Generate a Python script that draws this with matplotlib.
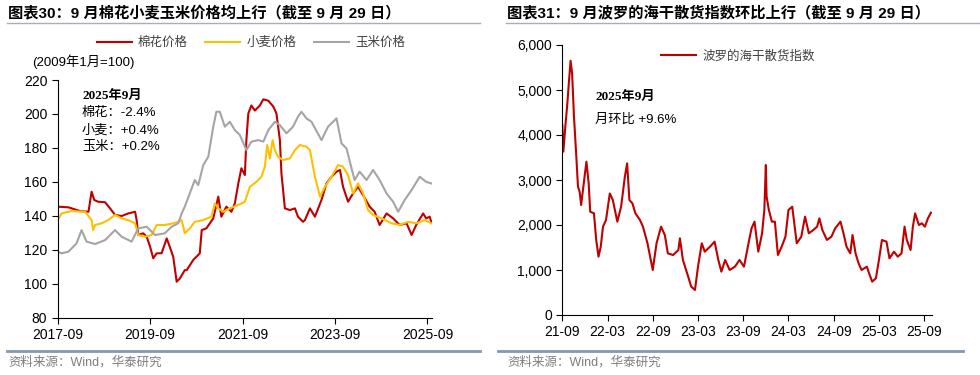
import matplotlib
matplotlib.use('Agg')
import matplotlib.pyplot as plt
from matplotlib.lines import Line2D
from matplotlib.ticker import FuncFormatter

CJK = 'Noto Sans CJK SC'
plt.rcParams['font.family'] = ['Liberation Sans', CJK, 'DejaVu Sans']

# ---- 图表30 数据：月份偏移（自2017-09起），指数（2009年1月=100）
cotton_m = [0, 2.8, 5.8, 8, 8.8, 9.5, 10.5, 12.3, 13.6, 14.9, 16.6, 18.3, 20.1, 20.5, 20.9,
            22.2, 23.1, 24, 24.8, 25.7, 27, 28.3, 29.1, 30, 30.9, 31.7, 33, 33.5, 35.2, 36.9,
            37.4, 38.6, 40.4, 41.7, 42.5, 43.8, 45.1, 46, 46.9, 47.7, 48.6, 49, 49.5, 50.3,
            51.2, 52.5, 53.4, 54.7, 56, 56.8, 57.7, 58.1, 59, 60.3, 61.6, 62.4, 63.7, 64.2,
            65.5, 66.8, 68.5, 69.8, 71.1, 72.4, 73.3, 74.1, 75.4, 76.7, 78, 79.3, 81, 82.3,
            83.6, 85.4, 87.1, 88.8, 90.6, 91.9, 93.1, 94.9, 95.7, 96.6, 97]
cotton_v = [145.4, 145, 142.8, 142.4, 154.2, 149.3, 148.3, 148, 144.4, 140.5, 139.9, 141.4,
            142.4, 137.5, 128.7, 129.7, 127.7, 121.8, 115, 117.9, 118, 126.7, 121.8, 115.9,
            101.2, 103, 108, 108, 114, 117.9, 131.6, 132.6, 138.5, 151.3, 139.5, 145.4, 142.4,
            147.3, 159.1, 168, 164, 184.6, 200.3, 205, 202, 205, 208.6, 207.8, 204.3, 200.3,
            184.6, 165, 144.4, 143.4, 144.4, 139.5, 136.5, 137.5, 144.4, 139.5, 149.3, 159.1,
            163, 166, 167, 157.1, 148.3, 153.2, 157.1, 152.2, 145.4, 142.4, 134.6, 141.4,
            138.5, 134.6, 135.6, 128.7, 134.6, 141.4, 138.5, 139.5, 136.5]

wheat_m = [0, 1, 3.6, 7.1, 8.8, 9.2, 9.7, 11.4, 13.1, 14.9, 16.6, 18.3, 20.1, 20.9, 22.7,
           24.4, 25.7, 27.8, 30, 31.3, 32.2, 33, 34.3, 35.6, 37.8, 39.9, 40.8, 41.7, 43, 44.7,
           46.9, 48.6, 49.9, 51.6, 52.9, 53.8, 54.4, 55.1, 55.8, 56.4, 57.2, 58.5, 60.3, 61.6,
           62.9, 64.6, 65.5, 66.8, 68.1, 69.4, 71.1, 72.8, 74.1, 75.4, 76.7, 78, 79.3, 80.6,
           81.9, 84.1, 86.7, 88.8, 91, 93.1, 95.3, 97]
wheat_v = [137.5, 141.4, 142.8, 142.4, 137.5, 131.6, 134.6, 135.6, 137.5, 140.5, 138.5, 137.5,
           135.6, 128.7, 127.7, 128.7, 134.6, 134.6, 135.6, 136.5, 137.5, 129.7, 132.6, 136.5,
           137.5, 139.5, 147.3, 144.4, 142.4, 144.4, 146.4, 148.3, 157.1, 160, 163, 168.9,
           181.7, 173.8, 184.6, 178.7, 174.8, 172.9, 173.8, 178.7, 181.7, 180.7, 178.7, 163,
           151.3, 157.1, 163, 169.9, 168.9, 164, 153.2, 159.1, 153.2, 143.4, 140.5, 138.5,
           135.6, 134.6, 136.5, 135.6, 137.5, 135.6]

corn_m = [0, 1, 2.8, 4.9, 6.2, 7.5, 9.7, 12.3, 14.9, 16.6, 19.2, 20.9, 23.1, 25.3, 27.8, 29.6,
          31.3, 32.2, 33, 34.3, 35.6, 36.5, 37.8, 39.1, 40.4, 41.2, 42.1, 43.4, 44.7, 46, 47.3,
          49, 50.3, 52.1, 53.4, 54.7, 56.4, 57.7, 59.4, 61.1, 62.4, 63.3, 64.6, 65.9, 68.5,
          70.2, 72.4, 73.7, 75, 76.3, 77.1, 78.4, 80.2, 81.9, 83.6, 85.4, 87.1, 88.4, 90.1,
          91.9, 94, 95.7, 97]
corn_v = [118.9, 117.9, 118.9, 123.8, 131.6, 124.8, 123.4, 125.7, 131.6, 127.7, 124.8, 132.6,
          133.6, 128.7, 129.7, 133.6, 135.6, 141.4, 145.4, 153.2, 161.1, 158.1, 169.9, 174.8,
          192.5, 201.3, 201.3, 192.5, 195.4, 190.5, 187.6, 178.7, 183.7, 184.6, 183.7, 190.5,
          195.4, 193.4, 188.6, 192.5, 198.4, 201.3, 197.4, 195.4, 184.6, 192.5, 197.4, 182.7,
          179.7, 168, 161.1, 166, 161.1, 167, 161.1, 153.2, 148.3, 142.4, 149.3, 155.2, 163,
          160, 159.1]

left_ticks = ['2017-09', '2019-09', '2021-09', '2023-09', '2025-09']

# ---- 图表31 数据：月份偏移（自2021-09起），BDI
bdi_m = [0, 0.14, 0.4, 0.67, 0.9, 1.1, 1.3, 1.55, 1.86, 2.08, 2.3, 2.5, 2.9, 3.2, 3.5, 3.7, 4.2,
         4.5, 4.8, 5.1, 5.4, 5.8, 6.3, 6.7, 7.3, 7.8, 8.3, 8.6, 8.9, 9.3, 9.7, 10.3, 10.7, 11.3,
         12, 12.5, 13.1, 13.6, 14, 14.7, 15.4, 15.6, 16, 16.7, 17.1, 17.6, 18, 18.5, 18.9,
         19.6, 20.2, 20.7, 21.1, 21.6, 22.2, 22.9, 23.5, 24.1, 24.7, 25.1, 25.5, 25.8, 26,
         26.5, 26.8, 27, 27.1, 27.4, 27.8, 28.2, 28.6, 29.1, 29.6, 30, 30.5, 31.1, 31.7, 32.2,
         32.7, 33.3, 33.8, 34.1, 34.5, 35.1, 35.7, 36.2, 36.9, 37.3, 37.7, 38.2, 38.5, 38.9,
         39.3, 39.7, 40.4, 40.7, 41.1, 41.6, 42, 42.4, 43, 43.4, 44, 44.5, 45, 45.4, 45.7,
         46.2, 46.5, 46.8, 47.3, 47.7, 48.1, 48.5, 48.9]
bdi_v = [4222, 3630, 4185, 4700, 5222, 5650, 5370, 4407, 3519, 2850, 2740, 2444, 3000, 3407,
         2926, 2296, 2259, 1667, 1296, 1519, 1963, 2111, 2700, 2556, 2074, 2407, 3074, 3370,
         2556, 2481, 2259, 2111, 1963, 1593, 1000, 1593, 1963, 1778, 1370, 1333, 1444, 1704,
         1222, 852, 630, 556, 1074, 1593, 1407, 1519, 1630, 1222, 963, 1222, 1000, 1074, 1222,
         1074, 1593, 1926, 2074, 1667, 1407, 1815, 2333, 3333, 2630, 2333, 2074, 2074, 1333,
         1519, 1741, 2333, 2407, 1593, 1741, 2185, 1815, 1889, 1963, 2148, 1889, 1667, 1741,
         1926, 2074, 1815, 1519, 1370, 1778, 1370, 1148, 1000, 1074, 926, 741, 815, 1222, 1667,
         1630, 1259, 1407, 1296, 1370, 1963, 1667, 1444, 1963, 2259, 2000, 2037, 1963, 2148,
         2274]

right_ticks = ['21-09', '22-03', '22-09', '23-03', '23-09', '24-03', '24-09', '25-03', '25-09']

RED = '#C00000'
YELLOW = '#FFC000'
GREY = '#A5A5A5'
W, H = 980, 375


def fx(x):
    return x / W


def fy(y):
    return 1 - y / H


fig = plt.figure(figsize=(9.8, 3.75), dpi=100)

# 标题与分隔线
fig.text(fx(8), fy(13), '图表30：9 月棉花小麦玉米价格均上行（截至 9 月 29 日）',
         fontsize=11, fontweight='bold', va='center')
fig.text(fx(507), fy(13), '图表31：9 月波罗的海干散货指数环比上行（截至 9 月 29 日）',
         fontsize=11, fontweight='bold', va='center')
fig.add_artist(Line2D([fx(7), fx(480)], [fy(23), fy(23)], color='#A6AEB8', lw=1))
fig.add_artist(Line2D([fx(506), fx(980)], [fy(23), fy(23)], color='#A6AEB8', lw=1))
fig.add_artist(Line2D([fx(7), fx(480)], [fy(351), fy(351)], color='#8497B0', lw=2))
fig.add_artist(Line2D([fx(498), fx(963)], [fy(351), fy(351)], color='#8497B0', lw=2))
fig.text(fx(8), fy(362), '资料来源：Wind，华泰研究', fontsize=9, color='#7F7F7F', va='center')
fig.text(fx(507), fy(362), '资料来源：Wind，华泰研究', fontsize=9, color='#7F7F7F', va='center')

# ---- 左图
ax1 = fig.add_axes([fx(57.7), fy(317.7), (432 - 57.7) / W, (317.7 - 80) / H])
ax1.plot(cotton_m, cotton_v, color=RED, lw=1.5, label='棉花价格')
ax1.plot(wheat_m, wheat_v, color=YELLOW, lw=1.5, label='小麦价格')
ax1.plot(corn_m, corn_v, color=GREY, lw=1.5, label='玉米价格')
ax1.set_xlim(0, 97.2)
ax1.set_ylim(80, 220)
ax1.set_yticks(range(80, 221, 20))
ax1.set_xticks([i * 24 for i in range(len(left_ticks))])
ax1.set_xticklabels(left_ticks)
for s in ['top', 'right']:
    ax1.spines[s].set_visible(False)
ax1.tick_params(direction='out', length=4, labelsize=10, colors='black')
ax1.legend(loc='center', bbox_to_anchor=(fx(251), fy(43)), bbox_transform=fig.transFigure,
           ncol=3, frameon=False, fontsize=9, handlelength=2.8, handletextpad=0.5,
           columnspacing=1.4, labelcolor='#404040')
fig.text(fx(32), fy(62), '(2009年1月=100)', fontsize=9.5, va='center')
fig.text(fx(82), fy(96), '2025年9月', fontsize=9.5, fontweight='bold', va='center',
         family=['Liberation Serif', CJK])
fig.text(fx(82), fy(113), '棉花：-2.4%', fontsize=9.5, va='center')
fig.text(fx(82), fy(130), '小麦：+0.4%', fontsize=9.5, va='center')
fig.text(fx(82), fy(147), '玉米：+0.2%', fontsize=9.5, va='center')

# ---- 右图
ax2 = fig.add_axes([fx(562.3), fy(315), (931.7 - 562.3) / W, (315 - 45) / H])
ax2.plot(bdi_m, bdi_v, color=RED, lw=1.5, label='波罗的海干散货指数')
ax2.set_xlim(0, 49)
ax2.set_ylim(0, 6000)
ax2.set_yticks(range(0, 6001, 1000))
ax2.yaxis.set_major_formatter(FuncFormatter(lambda v, p: f'{v:,.0f}'))
ax2.set_xticks([i * 6 for i in range(len(right_ticks))])
ax2.set_xticklabels(right_ticks)
for s in ['top', 'right']:
    ax2.spines[s].set_visible(False)
ax2.tick_params(direction='out', length=4, labelsize=10, colors='black')
ax2.legend(loc='center left', bbox_to_anchor=(fx(650), fy(56.7)), bbox_transform=fig.transFigure,
           frameon=False, fontsize=9, handlelength=2.8, handletextpad=0.5, labelcolor='#404040')
fig.text(fx(595), fy(97), '2025年9月', fontsize=9.5, fontweight='bold', va='center',
         family=['Liberation Serif', CJK])
fig.text(fx(595), fy(120), '月环比 +9.6%', fontsize=9.5, va='center')

fig.savefig('out.png', dpi=100)
